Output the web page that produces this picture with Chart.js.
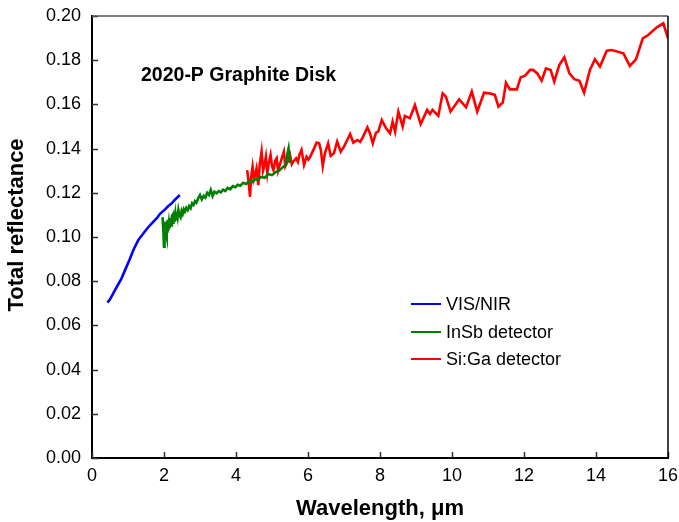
<!DOCTYPE html>
<html>
<head>
<meta charset="utf-8">
<script src="https://cdn.jsdelivr.net/npm/chart.js@4/dist/chart.umd.min.js"></script>
<style>
  body { margin: 0; background: #fff; }
</style>
</head>
<body>
<canvas id="myChart" width="679" height="522"></canvas>
<script>
// VIS/NIR spectrometer
var visX = [0.43, 0.50, 0.59, 0.70, 0.82, 0.96, 1.05, 1.15, 1.28, 1.43, 1.55, 1.66, 1.80, 1.89, 2.03, 2.12, 2.20, 2.30, 2.44];
var visY = [0.0703, 0.0718, 0.0745, 0.0778, 0.0813, 0.0866, 0.0900, 0.0941, 0.0985, 0.1017, 0.1042, 0.1062, 0.1085, 0.1105, 0.1125, 0.1140, 0.1150, 0.1168, 0.1190];

// InSb detector
var insbX = [1.96, 1.98, 2.00, 2.01, 2.02, 2.03, 2.04, 2.05, 2.06, 2.07, 2.08, 2.09, 2.10, 2.12, 2.14, 2.16, 2.18, 2.20,
  2.22, 2.24, 2.26, 2.28, 2.30, 2.32, 2.34, 2.36, 2.38, 2.40, 2.43, 2.46, 2.49, 2.52, 2.55, 2.58, 2.62, 2.66, 2.70,
  2.74, 2.78, 2.82, 2.86, 2.90, 2.95, 3.00, 3.05, 3.10, 3.15, 3.20, 3.25, 3.30, 3.35, 3.40, 3.46, 3.52, 3.58, 3.64,
  3.70, 3.77, 3.84, 3.91, 3.98, 4.05, 4.12, 4.20, 4.28, 4.36, 4.44, 4.52, 4.60, 4.70, 4.80, 4.90, 5.00, 5.10, 5.20,
  5.30, 5.38, 5.43, 5.46, 5.50];
var insbY = [0.1090, 0.1035, 0.0956, 0.1062, 0.0990, 0.1048, 0.1005, 0.1070, 0.1012, 0.1000, 0.1058, 0.1025, 0.1078,
  0.1030, 0.1065, 0.1040, 0.1085, 0.1052, 0.1095, 0.1100, 0.1060, 0.1088, 0.1069, 0.1105, 0.1080, 0.1112, 0.1092,
  0.1122, 0.1098, 0.1089, 0.1118, 0.1105, 0.1125, 0.1115, 0.1132, 0.1122, 0.1140, 0.1130, 0.1152, 0.1145, 0.1162,
  0.1155, 0.1175, 0.1190, 0.1170, 0.1186, 0.1178, 0.1200, 0.1190, 0.1213, 0.1185, 0.1205, 0.1198, 0.1208, 0.1202,
  0.1214, 0.1208, 0.1222, 0.1216, 0.1230, 0.1225, 0.1236, 0.1232, 0.1245, 0.1240, 0.1252, 0.1248, 0.1262, 0.1258,
  0.1272, 0.1268, 0.1285, 0.1280, 0.1294, 0.1300, 0.1316, 0.1325, 0.1378, 0.1401, 0.1335];

// Si:Ga detector
var sigaX = [4.31, 4.35, 4.39, 4.42, 4.46, 4.50, 4.53, 4.57, 4.62, 4.66, 4.71, 4.75, 4.78, 4.83, 4.87, 4.90, 4.96,
  5.00, 5.04, 5.09, 5.13, 5.17, 5.20, 5.27, 5.33, 5.37, 5.41, 5.46, 5.50, 5.55, 5.59, 5.67, 5.72, 5.76, 5.82, 5.89,
  5.96, 6.01, 6.06, 6.15, 6.24, 6.31, 6.36, 6.41, 6.47, 6.56, 6.63, 6.72, 6.81, 6.91, 7.00, 7.09, 7.17, 7.26, 7.37,
  7.45, 7.52, 7.65, 7.72, 7.80, 7.89, 7.95, 8.05, 8.17, 8.28, 8.35, 8.42, 8.51, 8.63, 8.69, 8.83, 8.97, 9.13, 9.31,
  9.39, 9.46, 9.62, 9.74, 9.83, 9.96, 10.20, 10.39, 10.55, 10.70, 10.89, 11.04, 11.19, 11.29, 11.41, 11.50, 11.61,
  11.80, 11.91, 12.03, 12.17, 12.25, 12.37, 12.49, 12.61, 12.74, 12.84, 12.98, 13.12, 13.26, 13.40, 13.54, 13.67,
  13.83, 13.97, 14.11, 14.30, 14.44, 14.76, 14.94, 15.11, 15.30, 15.45, 15.69, 15.87, 16.00];
var sigaY = [0.1303, 0.1250, 0.1182, 0.1270, 0.1318, 0.1262, 0.1280, 0.1310, 0.1235, 0.1330, 0.1386, 0.1300, 0.1318,
  0.1363, 0.1290, 0.1326, 0.1371, 0.1320, 0.1303, 0.1345, 0.1356, 0.1300, 0.1318, 0.1356, 0.1386, 0.1320, 0.1333,
  0.1350, 0.1371, 0.1330, 0.1341, 0.1356, 0.1340, 0.1371, 0.1394, 0.1326, 0.1363, 0.1350, 0.1363, 0.1394, 0.1427,
  0.1424, 0.1390, 0.1321, 0.1379, 0.1424, 0.1367, 0.1379, 0.1432, 0.1386, 0.1409, 0.1439, 0.1466, 0.1427, 0.1439,
  0.1430, 0.1451, 0.1496, 0.1470, 0.1424, 0.1472, 0.1477, 0.1529, 0.1492, 0.1469, 0.1522, 0.1477, 0.1567, 0.1500,
  0.1548, 0.1537, 0.1597, 0.1511, 0.1575, 0.1557, 0.1575, 0.1548, 0.1650, 0.1635, 0.1567, 0.1623, 0.1587, 0.1658,
  0.1567, 0.1653, 0.1650, 0.1643, 0.1590, 0.1608, 0.1698, 0.1668, 0.1668, 0.1723, 0.1730, 0.1756, 0.1756, 0.1740,
  0.1707, 0.1763, 0.1756, 0.1703, 0.1778, 0.1813, 0.1741, 0.1714, 0.1707, 0.1653, 0.1756, 0.1804, 0.1771, 0.1843,
  0.1846, 0.1831, 0.1774, 0.1804, 0.1899, 0.1914, 0.1949, 0.1967, 0.1899];

var seriesNames = ['VIS/NIR', 'InSb detector', 'Si:Ga detector'];
var seriesColors = ['#0000ff', '#008000', '#ff0000'];
var chartTitle = '2020-P Graphite Disk';
var yTitle = 'Total reflectance';

function pairs(xs, ys) {
  var out = [];
  for (var i = 0; i < xs.length; i++) out.push({x: xs[i], y: ys[i]});
  return out;
}

var FONT = '"Liberation Sans", Arial, Helvetica, sans-serif';

// inside ticks, top/right frame, titles and legend
var decor = {
  id: 'decor',
  afterDraw: function(chart) {
    var c = chart.ctx, a = chart.chartArea;
    var xs = chart.scales.x, ys = chart.scales.y;
    c.save();
    c.strokeStyle = '#333';
    c.lineWidth = 1.5;
    c.beginPath();
    xs.ticks.forEach(function(t) {
      var px = Math.round(xs.getPixelForValue(t.value)) + 0.5;
      c.moveTo(px, a.bottom);
      c.lineTo(px, a.bottom - 6);
    });
    ys.ticks.forEach(function(t) {
      var py = Math.round(ys.getPixelForValue(t.value)) + 0.5;
      c.moveTo(a.left, py);
      c.lineTo(a.left + 6, py);
    });
    c.stroke();

    // frame top and right
    c.strokeStyle = '#555';
    c.lineWidth = 1.5;
    c.beginPath();
    c.moveTo(a.left, a.top);
    c.lineTo(a.right, a.top);
    c.stroke();
    c.strokeStyle = '#000';
    c.beginPath();
    c.moveTo(a.right, a.top);
    c.lineTo(a.right, a.bottom);
    c.stroke();

    // title inside plot
    c.fillStyle = '#000';
    c.font = 'bold 19.5px ' + FONT;
    c.textBaseline = 'alphabetic';
    c.textAlign = 'left';
    c.fillText(chartTitle, 141, 81);

    // y axis title
    c.save();
    c.translate(17, 225);
    c.rotate(-Math.PI / 2);
    c.font = 'bold 22px ' + FONT;
    c.textAlign = 'center';
    c.textBaseline = 'middle';
    c.fillText(yTitle, 0, 0);
    c.restore();

    // legend
    var rows = [304, 332, 359];
    c.font = '18px ' + FONT;
    c.textAlign = 'left';
    c.textBaseline = 'middle';
    for (var i = 0; i < seriesNames.length; i++) {
      c.strokeStyle = seriesColors[i];
      c.lineWidth = 2;
      c.beginPath();
      c.moveTo(411, rows[i]);
      c.lineTo(441, rows[i]);
      c.stroke();
      c.fillStyle = '#000';
      c.fillText(seriesNames[i], 446, rows[i] + 1);
    }
    c.restore();
  }
};

var ctx = document.getElementById('myChart').getContext('2d');
var chart = new Chart(ctx, {
  type: 'line',
  data: {
    datasets: [
      {label: seriesNames[0], data: pairs(visX, visY), borderColor: seriesColors[0]},
      {label: seriesNames[1], data: pairs(insbX, insbY), borderColor: seriesColors[1]},
      {label: seriesNames[2], data: pairs(sigaX, sigaY), borderColor: seriesColors[2]}
    ]
  },
  options: {
    responsive: false,
    animation: false,
    devicePixelRatio: 1,
    layout: {padding: {top: 16, right: 11, left: 0, bottom: 0}},
    elements: {
      point: {radius: 0},
      line: {borderWidth: 2.6, tension: 0, fill: false}
    },
    plugins: {
      legend: {display: false},
      tooltip: {enabled: false}
    },
    scales: {
      x: {
        type: 'linear',
        min: 0, max: 16,
        grid: {display: true, drawOnChartArea: false, drawTicks: false},
        border: {display: true, color: '#000', width: 2},
        ticks: {stepSize: 2, color: '#000', padding: 7, font: {family: FONT, size: 18}},
        title: {display: true, text: 'Wavelength, μm', color: '#000', padding: {top: 2, bottom: 0},
          font: {family: FONT, size: 22, weight: 'bold', lineHeight: 1.2}},
        afterFit: function(s) { s.height = 64; s.paddingLeft = 0; s.paddingRight = 0; }
      },
      y: {
        type: 'linear',
        min: 0, max: 0.2,
        grid: {display: true, drawOnChartArea: false, drawTicks: false},
        border: {display: true, color: '#000', width: 2},
        ticks: {stepSize: 0.02, color: '#000', padding: 11, font: {family: FONT, size: 18},
          callback: function(v) { return v.toFixed(2); }},
        title: {display: false},
        afterFit: function(s) { s.width = 92; s.paddingTop = 0; s.paddingBottom = 0; }
      }
    }
  },
  plugins: [decor]
});
</script>
</body>
</html>
